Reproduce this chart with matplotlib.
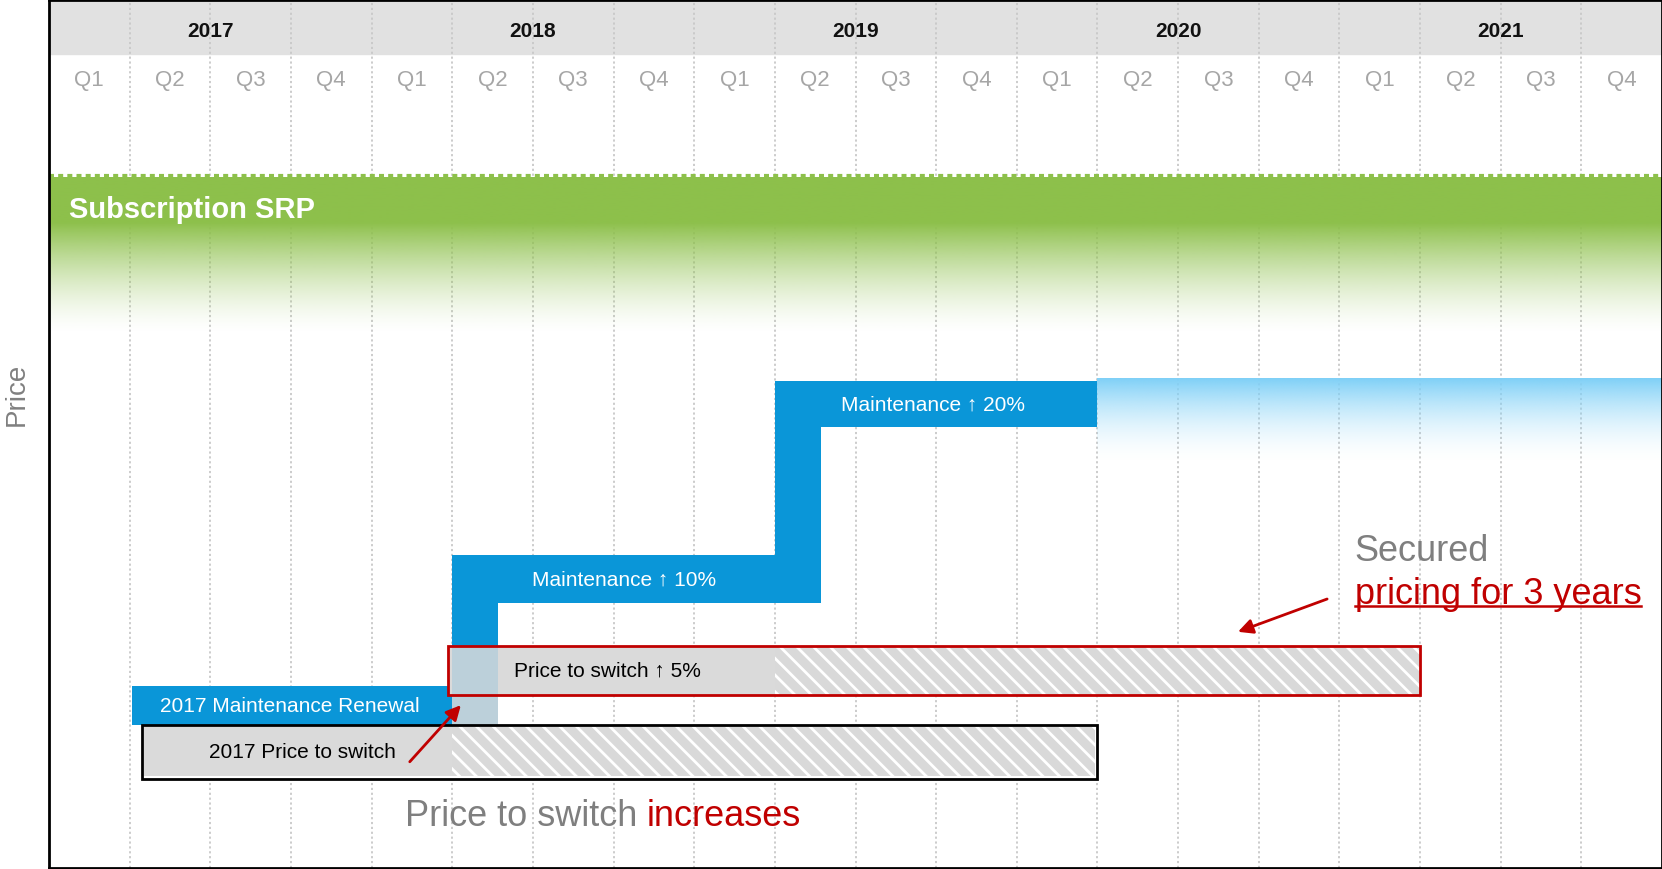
import numpy as np
import matplotlib.pyplot as plt
from matplotlib.patches import Rectangle
from matplotlib.lines import Line2D
from matplotlib.colors import to_rgb

plt.rcParams['font.family'] = ['Liberation Sans', 'DejaVu Sans']
plt.rcParams['hatch.linewidth'] = 2.0

# timeline: 5 years x 4 quarters, x axis in quarters from start of 2017
years = ['2017', '2018', '2019', '2020', '2021']
quarter_names = ['Q1', 'Q2', 'Q3', 'Q4']

# maintenance price steps (quarters, price level)
maint_labels = ['2017 Maintenance Renewal', 'Maintenance \u2191 10%', 'Maintenance \u2191 20%']
maint_start = [1.03, 5.0, 9.0]
maint_end = [5.0, 9.57, 13.0]
maint_low = [16.5, 30.5, 50.8]
maint_high = [21.0, 36.1, 56.1]
maint_label_x = [2.98, 7.13, 10.96]

# vertical risers between steps
riser_start = [5.0, 9.0]
riser_end = [5.57, 9.57]
riser_low = [16.5, 30.5]
riser_high = [30.5, 50.8]

# price to switch boxes
switch_labels = ['2017 Price to switch', 'Price to switch \u2191 5%']
switch_start = [1.15, 4.95]
switch_solid_end = [5.0, 9.0]
switch_end = [13.0, 17.0]
switch_low = [10.3, 19.9]
switch_high = [16.5, 25.6]
switch_edge = ['black', '#C00000']
switch_label_x = [3.14, 6.92]

srp_top = 79.5
blue_fade_start = 13.0

fig = plt.figure(figsize=(16.62, 8.70), dpi=100)
ax = fig.add_axes([49 / 1662, 1 / 870, 1 - 49 / 1662, 868 / 870])
ax.set_xlim(0, 20)
ax.set_ylim(0, 100)
ax.set_xticks([])
ax.set_yticks([])
for sp in ax.spines.values():
    sp.set_linewidth(2)
    sp.set_color('black')
    sp.set_zorder(10)

# header band
ax.axhspan(93.8, 100, color='#E1E1E1', zorder=0)
for i, y in enumerate(years):
    ax.text(4 * i + 2, 96.5, y, ha='center', va='center', fontsize=15,
            fontweight='bold', color='#111111', zorder=5)
for k in range(20):
    ax.text(k + 0.5, 90.8, quarter_names[k % 4], ha='center', va='center',
            fontsize=16, color='#A6A6A6', zorder=5)

# quarter grid lines
for k in range(1, 20):
    ax.plot([k, k], [0, 100], color='#C8C8C8', lw=1.3, linestyle=(0, (1.2, 1.5)), zorder=0.5)

# green subscription band with fade
green = np.array(to_rgb('#8DC04B'))
n = 200
ys = np.linspace(0, 1, n)  # 0 top -> 1 bottom
solid = 0.29
alpha = np.clip(1 - (ys - solid) / (1 - solid), 0, 1) ** 1.5
img = np.zeros((n, 2, 4))
img[:, :, :3] = green
img[:, :, 3] = alpha[:, None]
ax.imshow(img, extent=(0, 20, 61.5, srp_top), aspect='auto', zorder=1, interpolation='bilinear')
ax.plot([0, 20], [79.75, 79.75], color='#8DC04B', lw=3.0, linestyle=(0, (1.2, 1.0)),
        solid_capstyle='butt', dash_capstyle='butt', zorder=1)
ax.text(0.25, 75.9, 'Subscription SRP', ha='left', va='center', fontsize=21,
        fontweight='bold', color='white', zorder=5)

# light blue fade after last maintenance step
lblue = np.array(to_rgb('#7FD0F7'))
ysb = np.linspace(0, 1, n)
img2 = np.zeros((n, 2, 4))
img2[:, :, :3] = lblue
img2[:, :, 3] = (1 - ysb)[:, None] ** 1.8
ax.imshow(img2, extent=(blue_fade_start, 20, 46.5, 56.3), aspect='auto', zorder=1,
          interpolation='bilinear')

blue = '#0A96D8'
# maintenance steps
for s, e, lo, hi, lab, lx in zip(maint_start, maint_end, maint_low, maint_high,
                                 maint_labels, maint_label_x):
    ax.add_patch(Rectangle((s, lo), e - s, hi - lo, facecolor=blue, edgecolor='none', zorder=3))
    ax.text(lx, (lo + hi) / 2, lab, ha='center', va='center', fontsize=15,
            color='white', zorder=6)
for s, e, lo, hi in zip(riser_start, riser_end, riser_low, riser_high):
    ax.add_patch(Rectangle((s, lo), e - s, hi - lo, facecolor=blue, edgecolor='none', zorder=3))

# price to switch boxes
switch_inset = [(0.03, 0.3), (0.0, 0.0)]
for s, m, e, lo, hi, ec, lab, lx, (dx, dy) in zip(switch_start, switch_solid_end, switch_end,
                                                  switch_low, switch_high, switch_edge,
                                                  switch_labels, switch_label_x, switch_inset):
    ax.add_patch(Rectangle((s, lo), e - s, hi - lo, facecolor='white',
                           edgecolor='none', zorder=4))
    ax.add_patch(Rectangle((s + dx, lo + dy), m - s - dx, hi - lo - 2 * dy,
                           facecolor='#DADADA', edgecolor='none', zorder=4))
    ax.add_patch(Rectangle((m, lo + dy), e - m - dx, hi - lo - 2 * dy, facecolor='#D9D9D9',
                           edgecolor='white', lw=0, hatch='\\\\', zorder=4))
    ax.add_patch(Rectangle((s, lo), e - s, hi - lo, fill=False, edgecolor=ec,
                           lw=2, zorder=7))
    ax.text(lx, (lo + hi) / 2, lab, ha='center', va='center', fontsize=15,
            color='black', zorder=6)

# riser seen through the switch box
ax.add_patch(Rectangle((riser_start[0], switch_high[0]), riser_end[0] - riser_start[0],
                       switch_high[1] - switch_high[0], facecolor='#BCD0DA',
                       edgecolor='none', zorder=5))

# annotations
red = '#C00000'
ax.annotate('', xy=(5.13, 19.0), xytext=(4.45, 12.0),
            arrowprops=dict(arrowstyle='-|>', color=red, lw=2, mutation_scale=22), zorder=8)
ax.annotate('', xy=(14.71, 27.1), xytext=(15.88, 31.1),
            arrowprops=dict(arrowstyle='-|>', color=red, lw=2, mutation_scale=22), zorder=8)

t1 = ax.text(4.41, 6.1, 'Price to switch', ha='left', va='center', fontsize=26,
             color='#7F7F7F', zorder=6)
ax.annotate('increases', xy=(1, 0), xycoords=t1, xytext=(7, 0),
            textcoords='offset points', ha='left', va='bottom', fontsize=26,
            color=red, zorder=6)

ax.text(16.19, 36.6, 'Secured', ha='left', va='center', fontsize=26,
        color='#7F7F7F', zorder=6)
t3 = ax.text(16.19, 31.6, 'pricing for 3 years', ha='left', va='center', fontsize=26,
             color=red, zorder=6)

fig.text(17 / 1662, 1 - 394 / 870, 'Price', rotation=90, ha='center', va='center',
         fontsize=20, color='#808080')

# underline
fig.canvas.draw()
bb = t3.get_window_extent().transformed(fig.transFigure.inverted())
uy = bb.y0 + (bb.y1 - bb.y0) * 0.14
fig.add_artist(Line2D([bb.x0, bb.x1], [uy, uy], color=red, lw=1.8))

fig.savefig('out.png', dpi=100)
